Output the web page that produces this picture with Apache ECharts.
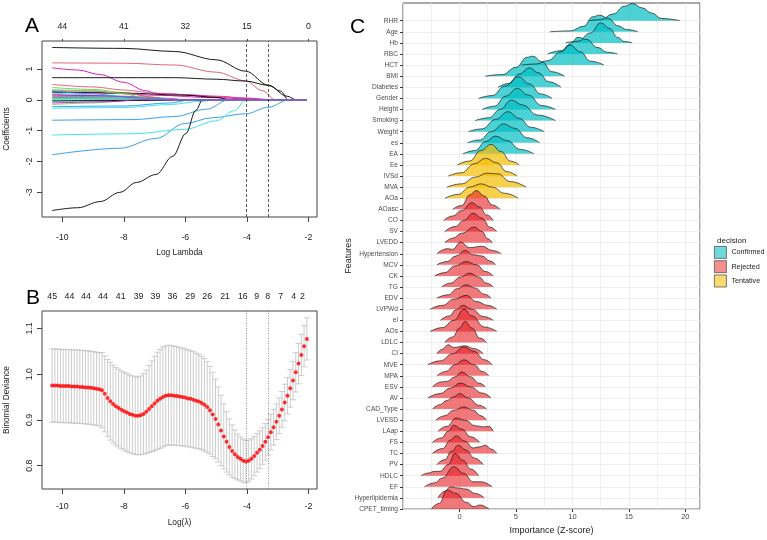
<!DOCTYPE html>
<html>
<head>
<meta charset="utf-8">
<script src="https://cdn.jsdelivr.net/npm/echarts@6/dist/echarts.min.js"></script>
<style>
  html, body {margin: 0; padding: 0; background: #fff;}
  #chart {width: 767px; height: 540px;}
</style>
</head>
<body>
<div id="chart"></div>
<script>
// ---- panel A: lasso coefficient paths (log lambda, coefficient) ----
const pathTopAt = [-10, -8, -6, -4, -2];
const pathTopCount = [44, 41, 32, 15, 0];
const coefPaths = [
  [[-10.33, 1.70], [-8, 1.67], [-6.35, 1.57], [-5, 1.30], [-4.04, 0.93], [-3.29, 0.47], [-2.7, 0.12], [-2.38, 0], [-2.05, 0]],
  [[-10.33, 1.20], [-8, 1.19], [-6.35, 1.13], [-5, 0.90], [-4.04, 0.62], [-3.5, 0.30], [-3.07, 0], [-2.05, 0]],
  [[-10.33, 0.40], [-9, 0.34], [-8, 0.24], [-7.2, 0.10], [-6.5, 0], [-2.05, 0]],
  [[-10.33, -1.78], [-8.13, -1.57], [-6.95, -1.25], [-6.03, -0.77], [-5.12, -0.58], [-4.04, -0.45], [-3.29, -0.24], [-2.65, 0], [-2.05, 0]],
  [[-10.33, -1.14], [-7.7, -1.10], [-6.03, -0.96], [-5, -0.68], [-4.4, -0.35], [-4.04, 0], [-2.05, 0]],
  [[-10.33, 1.04], [-9.5, 0.97], [-8.77, 0.82], [-8, 0.57], [-7.3, 0.30], [-6.95, 0.21], [-6, 0.17], [-5, 0.12], [-4.04, 0.06], [-3.07, 0], [-2.05, 0]],
  [[-10.33, 0.72], [-8, 0.72], [-6.35, 0.72], [-5, 0.67], [-4.04, 0.61], [-3.29, 0.47], [-2.9, 0.28], [-2.65, 0], [-2.05, 0]],
  [[-10.33, 0.50], [-9, 0.42], [-8, 0.32], [-7, 0.22], [-5, 0.10], [-4, 0.05], [-3.5, 0], [-2.05, 0]],
  [[-10.33, -0.15], [-9, -0.10], [-8, -0.03], [-7.5, 0], [-2.05, 0]],
  [[-10.33, -0.66], [-7.7, -0.64], [-6.35, -0.54], [-5.3, -0.30], [-4.6, 0], [-2.05, 0]],
  [[-10.33, -0.27], [-8, -0.25], [-6.5, -0.15], [-5.5, -0.05], [-5, 0], [-2.05, 0]],
  [[-10.33, 0.27], [-9, 0.24], [-8, 0.20], [-7, 0.15], [-5, 0.07], [-4, 0.03], [-3.3, 0], [-2.05, 0]],
  [[-10.33, -3.59], [-9.5, -3.50], [-8.77, -3.30], [-8.13, -3.00], [-7.59, -2.68], [-6.95, -2.42], [-6.41, -1.83], [-5.98, -1.09], [-5.66, -0.34], [-5.44, 0], [-2.05, 0]],
  [[-10.33, 0.18], [-8, 0.12], [-6.5, 0.05], [-6, 0], [-2.05, 0]],
  [[-10.33, 0.10], [-8, 0.06], [-7, 0], [-2.05, 0]],
  [[-10.33, -0.22], [-8, -0.20], [-6.5, -0.10], [-5.8, 0], [-2.05, 0]],
  [[-10.33, 0.22], [-8.5, 0.15], [-7.5, 0.05], [-7, 0], [-2.05, 0]],
  [[-10.33, 0.06], [-8, 0.03], [-7.5, 0], [-2.05, 0]],
  [[-10.33, 0.25], [-8, 0.22], [-6, 0.15], [-5, 0.08], [-4.5, 0], [-2.05, 0]],
  [[-10.33, 0.30], [-9, 0.28], [-7.8, 0.20], [-7, 0.08], [-6.5, 0], [-2.05, 0]],
  [[-10.33, 0.33], [-9, 0.30], [-8, 0.20], [-7.3, 0.05], [-7, 0], [-2.05, 0]],
  [[-10.33, 0.28], [-9, 0.20], [-8, 0.10], [-7.5, 0], [-2.05, 0]],
  [[-10.33, -0.05], [-8.5, -0.03], [-7.8, 0], [-2.05, 0]],
  [[-10.33, 0.15], [-9, 0.14], [-8, 0.10], [-7, 0.03], [-6.6, 0], [-2.05, 0]],
  [[-10.33, -0.03], [-7, -0.02], [-6, 0], [-2.05, 0]],
  [[-10.33, 0.08], [-8.5, 0.06], [-7, 0.02], [-6.5, 0], [-2.05, 0]],
  [[-10.33, 0.02], [-8, 0.02], [-6.5, 0.01], [-5.5, 0], [-2.05, 0]],
  [[-10.33, 0.12], [-8, 0.10], [-7, 0.05], [-6, 0], [-2.05, 0]],
  [[-10.33, 0.05], [-8, 0.04], [-6.8, 0], [-2.05, 0]],
  [[-10.33, -0.10], [-8.5, -0.06], [-7.5, 0], [-2.05, 0]]
];
const lambdaMin = -4.03;
const lambda1se = -3.29;

// ---- panel B: cross-validated binomial deviance ----
const logLambda = [-10.33, -10.24, -10.15, -10.06, -9.97, -9.88, -9.79, -9.70, -9.61, -9.52, -9.43, -9.34, -9.25, -9.16, -9.07, -8.98, -8.89, -8.80, -8.71, -8.62, -8.53, -8.44, -8.35, -8.26, -8.17, -8.08, -7.99, -7.90, -7.81, -7.72, -7.63, -7.54, -7.45, -7.36, -7.27, -7.18, -7.09, -7.00, -6.91, -6.82, -6.73, -6.64, -6.55, -6.46, -6.37, -6.28, -6.19, -6.10, -6.01, -5.92, -5.83, -5.74, -5.65, -5.56, -5.47, -5.38, -5.29, -5.20, -5.11, -5.02, -4.93, -4.84, -4.75, -4.66, -4.57, -4.48, -4.39, -4.30, -4.21, -4.12, -4.03, -3.94, -3.85, -3.76, -3.67, -3.58, -3.49, -3.40, -3.31, -3.22, -3.13, -3.04, -2.95, -2.86, -2.77, -2.68, -2.59, -2.50, -2.41, -2.32, -2.23, -2.14, -2.05];
const cvMean = [0.975, 0.975, 0.975, 0.974, 0.974, 0.974, 0.974, 0.973, 0.973, 0.973, 0.972, 0.972, 0.971, 0.971, 0.970, 0.969, 0.968, 0.967, 0.965,
  0.957, 0.948, 0.941, 0.935, 0.930, 0.926, 0.922, 0.919, 0.916, 0.913, 0.911, 0.909, 0.909,
  0.910, 0.913, 0.918, 0.924, 0.930, 0.936, 0.942, 0.946, 0.950, 0.953, 0.954, 0.954,
  0.953, 0.952, 0.951, 0.950, 0.949, 0.947, 0.946, 0.944, 0.942, 0.940, 0.937, 0.933, 0.928, 0.921, 0.912, 0.902,
  0.890, 0.877, 0.864, 0.852, 0.841, 0.832, 0.825, 0.819, 0.815, 0.811, 0.809,
  0.811, 0.815, 0.821, 0.828, 0.835, 0.843, 0.852, 0.862, 0.873, 0.884, 0.896, 0.909, 0.923, 0.938, 0.953, 0.969, 0.986, 1.004, 1.023, 1.042, 1.061, 1.077];
const cvSe = [0.080, 0.080, 0.080, 0.080, 0.080, 0.080, 0.080, 0.080, 0.080, 0.080, 0.080, 0.080, 0.080, 0.080, 0.080, 0.080, 0.080, 0.080, 0.082,
  0.083, 0.084, 0.085, 0.085, 0.085, 0.085, 0.085, 0.085, 0.085, 0.085, 0.085, 0.085, 0.085,
  0.086, 0.088, 0.091, 0.095, 0.099, 0.103, 0.106, 0.108, 0.109, 0.109, 0.109, 0.109,
  0.108, 0.108, 0.107, 0.107, 0.106, 0.106, 0.105, 0.105, 0.104, 0.103, 0.102, 0.101, 0.099, 0.096, 0.092, 0.087,
  0.082, 0.077, 0.071, 0.066, 0.061, 0.057, 0.053, 0.050, 0.048, 0.047, 0.046,
  0.045, 0.044, 0.043, 0.042, 0.041, 0.040, 0.040, 0.039, 0.039, 0.039, 0.039, 0.039, 0.039, 0.040, 0.040, 0.041, 0.042, 0.043, 0.044, 0.045, 0.045, 0.046];
const nzAt = [-10.33, -9.77, -9.23, -8.68, -8.10, -7.52, -6.97, -6.42, -5.84, -5.29, -4.71, -4.13, -3.68, -3.32, -2.90, -2.48, -2.19];
const nzCount = [45, 44, 44, 44, 41, 39, 39, 36, 29, 26, 21, 16, 9, 8, 7, 4, 2];
const cvMinAt = -4.03;
const cv1seAt = -3.31;

// ---- panel C: Boruta importance ridges, top row first; [z-score, density height in rows] ----
const features = ['RHR', 'Age', 'Hb', 'RBC', 'HCT', 'BMI', 'Diabetes', 'Gender', 'Height', 'Smoking', 'Weight', 'es', 'EA',
  'Ee', 'IVSd', 'MVA', 'AOa',
  'AOasc', 'CO', 'SV', 'LVEDD', 'Hypertension', 'MCV', 'CK', 'TG', 'EDV', 'LVPWd', 'el', 'AOs', 'LDLC', 'CI', 'MVE', 'MPA',
  'ESV', 'AV', 'CAD_Type', 'LVESD', 'LAap', 'FS', 'TC', 'PV', 'HDLC', 'EF', 'Hyperlipidemia', 'CPET_timing'];
const decisions = ['Confirmed', 'Confirmed', 'Confirmed', 'Confirmed', 'Confirmed', 'Confirmed', 'Confirmed', 'Confirmed', 'Confirmed', 'Confirmed', 'Confirmed', 'Confirmed', 'Confirmed',
  'Tentative', 'Tentative', 'Tentative', 'Tentative',
  'Rejected', 'Rejected', 'Rejected', 'Rejected', 'Rejected', 'Rejected', 'Rejected', 'Rejected', 'Rejected', 'Rejected', 'Rejected', 'Rejected', 'Rejected', 'Rejected', 'Rejected', 'Rejected',
  'Rejected', 'Rejected', 'Rejected', 'Rejected', 'Rejected', 'Rejected', 'Rejected', 'Rejected', 'Rejected', 'Rejected', 'Rejected', 'Rejected'];
const ridges = [
  [[11.5, 0], [12.5, 0.1], [13.6, 0.6], [14.6, 1.3], [15.3, 1.55], [16.2, 1.15], [17.0, 0.7], [17.9, 0.2], [19.5, 0]],
  [[8.0, 0], [9.8, 0.08], [11.0, 0.5], [11.8, 1.35], [12.4, 1.5], [13.2, 1.2], [14.0, 0.55], [14.8, 0.2], [15.8, 0]],
  [[9.4, 0], [10.5, 0.15], [11.6, 0.9], [12.5, 1.8], [13.3, 1.3], [14.0, 0.5], [14.6, 0.12], [15.3, 0]],
  [[7.8, 0], [9.0, 0.3], [9.8, 0.9], [10.5, 1.5], [11.3, 1.3], [12.2, 0.6], [13.1, 0.15], [14.0, 0]],
  [[5.5, 0], [6.8, 0.1], [7.8, 0.4], [9.0, 1.2], [9.8, 1.8], [10.7, 1.2], [11.6, 0.35], [12.8, 0]],
  [[2.3, 0], [3.8, 0.15], [5.0, 0.8], [6.0, 1.7], [6.5, 1.8], [7.3, 1.3], [8.2, 0.4], [9.3, 0]],
  [[3.4, 0], [4.4, 0.35], [5.3, 1.2], [6.2, 1.75], [7.0, 1.3], [7.9, 0.5], [9.0, 0]],
  [[1.7, 0], [2.9, 0.25], [4.0, 1.1], [5.2, 1.95], [6.2, 1.3], [7.2, 0.4], [8.2, 0]],
  [[2.0, 0], [3.1, 0.3], [4.1, 1.2], [5.1, 1.9], [6.1, 1.3], [7.3, 0.35], [8.5, 0]],
  [[1.4, 0], [2.6, 0.25], [3.6, 1.0], [4.6, 1.85], [5.6, 1.4], [6.9, 0.5], [8.5, 0]],
  [[0.8, 0], [2.0, 0.25], [3.2, 1.1], [4.3, 1.8], [5.3, 1.2], [6.3, 0.4], [7.5, 0]],
  [[0.7, 0], [1.8, 0.25], [2.8, 1.0], [3.9, 1.7], [4.9, 1.3], [6.0, 0.45], [7.1, 0]],
  [[0.3, 0], [1.4, 0.3], [2.3, 1.1], [3.2, 1.6], [4.2, 1.2], [5.4, 0.4], [6.6, 0]],
  [[-0.2, 0], [0.9, 0.35], [1.9, 1.3], [2.8, 1.85], [3.7, 1.2], [4.5, 0.35], [5.3, 0]],
  [[-1.0, 0], [0.2, 0.3], [1.3, 1.1], [2.3, 1.6], [3.3, 1.2], [4.2, 0.4], [5.1, 0]],
  [[-1.1, 0], [0.2, 0.3], [1.4, 0.9], [2.4, 1.25], [3.4, 1.2], [4.5, 0.5], [5.9, 0]],
  [[-1.3, 0], [-0.1, 0.35], [0.9, 1.0], [1.9, 1.3], [2.9, 1.0], [4.0, 0.45], [5.2, 0]],
  [[-0.6, 0], [0.2, 0.35], [0.9, 1.3], [1.5, 1.7], [2.2, 1.2], [2.9, 0.4], [3.6, 0]],
  [[-1.4, 0], [-0.6, 0.4], [0.2, 0.9], [1.1, 1.6], [1.8, 1.2], [2.4, 0.5], [3.0, 0]],
  [[-1.3, 0], [-0.4, 0.45], [0.4, 1.0], [1.2, 1.65], [2.0, 1.2], [2.7, 0.4], [3.3, 0]],
  [[-1.3, 0], [-0.6, 0.4], [0.2, 0.85], [1.3, 1.4], [2.0, 1.0], [2.5, 0.35], [2.9, 0]],
  [[-2.0, 0], [-1.1, 0.45], [-0.6, 0.4], [0.1, 1.05], [0.9, 0.55], [2.0, 0.68], [2.9, 0.3], [3.7, 0]],
  [[-2.0, 0], [-1.1, 0.3], [-0.3, 0.8], [0.5, 1.3], [1.2, 0.9], [2.0, 0.8], [2.7, 0.35], [3.2, 0]],
  [[-2.2, 0], [-1.3, 0.3], [-0.4, 0.9], [0.6, 1.3], [1.5, 1.0], [2.3, 0.4], [3.0, 0]],
  [[-1.6, 0], [-0.8, 0.35], [0.1, 0.9], [0.9, 1.26], [1.7, 0.9], [2.4, 0.35], [3.0, 0]],
  [[-2.0, 0], [-1.0, 0.3], [-0.2, 0.85], [0.6, 1.2], [1.4, 0.9], [2.2, 0.35], [2.8, 0]],
  [[-2.6, 0], [-1.5, 0.35], [-0.5, 0.9], [0.6, 1.25], [1.5, 0.7], [2.5, 0.35], [3.3, 0]],
  [[-1.7, 0], [-0.9, 0.4], [-0.3, 0.95], [0.3, 1.35], [1.1, 1.0], [2.1, 0.35], [3.0, 0]],
  [[-2.6, 0], [-1.5, 0.35], [-0.5, 1.0], [0.4, 2.0], [1.1, 1.4], [2.2, 0.4], [3.3, 0]],
  [[-1.3, 0], [-0.6, 0.5], [0.0, 1.3], [0.5, 1.9], [1.1, 1.3], [1.8, 0.4], [2.4, 0]],
  [[-2.0, 0], [-1.5, 0.4], [-1.0, 0.8], [-0.5, 0.55], [0.5, 0.7], [1.3, 0.45], [2.1, 0]],
  [[-2.8, 0], [-1.7, 0.35], [-0.6, 1.0], [0.4, 1.6], [1.3, 1.2], [2.2, 0.45], [2.9, 0]],
  [[-2.0, 0], [-1.2, 0.4], [-0.4, 1.0], [0.4, 1.45], [1.3, 1.0], [2.0, 0.4], [2.6, 0]],
  [[-2.4, 0], [-1.6, 0.45], [-1.1, 0.5], [-0.4, 0.9], [0.2, 1.35], [1.0, 0.9], [1.7, 0.35], [2.3, 0]],
  [[-2.8, 0], [-1.7, 0.4], [-0.8, 0.9], [0.1, 1.35], [1.0, 1.0], [2.0, 0.45], [2.8, 0]],
  [[-2.4, 0], [-1.7, 0.4], [-1.2, 0.75], [-0.5, 1.1], [0.0, 1.4], [0.8, 1.0], [1.7, 0.35], [2.4, 0]],
  [[-2.1, 0], [-1.3, 0.4], [-0.5, 0.9], [0.4, 1.2], [1.2, 0.9], [1.9, 0.4], [2.4, 0]],
  [[-1.9, 0], [-1.1, 0.45], [-0.3, 1.2], [0.5, 1.0], [1.4, 0.5], [2.1, 0.4], [2.6, 0.45], [3.0, 0]],
  [[-2.4, 0], [-1.6, 0.4], [-1.0, 1.0], [-0.5, 1.55], [0.2, 1.2], [1.0, 0.5], [1.8, 0]],
  [[-2.4, 0], [-1.5, 0.45], [-0.8, 1.2], [-0.3, 1.6], [0.5, 1.1], [1.2, 0.5], [1.8, 0.6], [2.3, 0.75], [2.8, 0.4], [3.3, 0]],
  [[-2.0, 0], [-1.3, 0.45], [-0.7, 1.2], [-0.1, 1.75], [0.6, 1.3], [1.3, 0.6], [2.1, 0]],
  [[-3.4, 0], [-2.7, 0.25], [-2.3, 0.38], [-1.7, 0.4], [-1.0, 1.0], [-0.4, 2.0], [0.3, 1.4], [1.0, 0.6], [1.7, 0]],
  [[-3.1, 0], [-2.2, 0.35], [-1.5, 0.8], [-0.5, 1.8], [0.4, 1.2], [1.2, 0.45], [1.9, 0.45], [2.9, 0]],
  [[-1.9, 0], [-1.3, 0.6], [-0.8, 1.0], [-0.2, 0.9], [0.6, 0.8], [1.4, 0.4], [2.2, 0]],
  [[-2.5, 0], [-1.8, 0.5], [-1.1, 1.7], [-0.3, 1.4], [0.6, 0.6], [1.3, 0.2], [1.8, 0.36], [2.6, 0]]
];
const xTicksC = [0, 5, 10, 15, 20];

// ---- styles ----
const rPalette = ['#000000', '#DF536B', '#61D04F', '#2297E6', '#28E2E5', '#CD0BBC'];
const fillColors = {Confirmed: 'rgba(0,190,195,0.7)', Rejected: 'rgba(230,30,35,0.6)', Tentative: 'rgba(245,190,0,0.7)'};
const keyColors = {Confirmed: '#4ccfd3', Rejected: '#f07476', Tentative: '#f9d24e'};
const FONT = 'Liberation Sans, Arial, sans-serif';
const tickLab = {fontSize: 8.8, color: '#222', fontFamily: FONT};
const nRow = features.length - 1;
const noLine = {show: false, onZero: false};

const chart = echarts.init(document.getElementById('chart'), null, {renderer: 'canvas'});

function lookup(at, labels) {
  return v => {
    const i = at.findIndex(a => Math.abs(a - v) < 1e-6);
    return i < 0 ? '' : String(labels[i]);
  };
}

function errorBar(params, api) {
  const x = api.value(0);
  const lo = api.coord([x, api.value(1)]);
  const hi = api.coord([x, api.value(2)]);
  const w = 3;
  const st = {stroke: '#c6c6c6', lineWidth: 0.9};
  return {
    type: 'group',
    children: [
      {type: 'line', shape: {x1: lo[0], y1: lo[1], x2: hi[0], y2: hi[1]}, style: st},
      {type: 'line', shape: {x1: hi[0] - w, y1: hi[1], x2: hi[0] + w, y2: hi[1]}, style: st},
      {type: 'line', shape: {x1: lo[0] - w, y1: lo[1], x2: lo[0] + w, y2: lo[1]}, style: st}
    ]
  };
}

const series = [];

// A: coefficient paths
coefPaths.forEach((path, i) => {
  series.push({
    type: 'line', xAxisIndex: 0, yAxisIndex: 0,
    data: path, smooth: 0.35, smoothMonotone: 'x', showSymbol: false, silent: true,
    lineStyle: {color: rPalette[i % rPalette.length], width: 0.9}
  });
});
series.push({
  type: 'line', xAxisIndex: 0, yAxisIndex: 0, data: [], silent: true,
  markLine: {
    symbol: 'none', label: {show: false}, silent: true,
    lineStyle: {color: '#333', type: [3, 2], width: 0.8},
    data: [{xAxis: lambdaMin}, {xAxis: lambda1se}]
  }
});

// B: error bars + mean points
series.push({
  type: 'custom', xAxisIndex: 2, yAxisIndex: 1, renderItem: errorBar, silent: true,
  data: logLambda.map((x, i) => [x, cvMean[i] - cvSe[i], cvMean[i] + cvSe[i]]),
  markLine: {
    symbol: 'none', label: {show: false}, silent: true,
    lineStyle: {color: '#777', type: [1, 1.5], width: 0.8},
    data: [{xAxis: cvMinAt}, {xAxis: cv1seAt}]
  }
});
series.push({
  type: 'scatter', xAxisIndex: 2, yAxisIndex: 1, symbolSize: 4, silent: true,
  itemStyle: {color: '#ff0000'},
  data: logLambda.map((x, i) => [x, cvMean[i]])
});

// C: ridges, drawn top row first so lower rows sit in front
features.forEach((f, i) => {
  const base = nRow - i;
  series.push({
    name: f, type: 'line', xAxisIndex: 6, yAxisIndex: 3,
    data: ridges[i].map(p => [p[0], base + p[1]]),
    smooth: 0.45, smoothMonotone: 'x', showSymbol: false, clip: false, silent: true,
    lineStyle: {color: '#1a1a1a', width: 0.7},
    areaStyle: {color: fillColors[decisions[i]], opacity: 1, origin: base}
  });
});
['Confirmed', 'Rejected', 'Tentative'].forEach(d => {
  series.push({name: d, type: 'scatter', xAxisIndex: 6, yAxisIndex: 3, data: [], itemStyle: {color: keyColors[d]}});
});

chart.setOption({
  animation: false,
  backgroundColor: '#fff',
  textStyle: {fontFamily: FONT},
  title: [
    {text: 'A', left: 20, top: 11, textStyle: {fontSize: 21, fontWeight: 'normal', color: '#000', fontFamily: FONT}},
    {text: 'B', left: 21, top: 283, textStyle: {fontSize: 21, fontWeight: 'normal', color: '#000', fontFamily: FONT}},
    {text: 'C', left: 345, top: 12, textStyle: {fontSize: 21, fontWeight: 'normal', color: '#000', fontFamily: FONT}},
    {text: 'decision', left: 712, top: 232, textStyle: {fontSize: 8, fontWeight: 'normal', color: '#222', fontFamily: FONT}}
  ],
  legend: {
    data: ['Confirmed', 'Rejected', 'Tentative'],
    orient: 'vertical', left: 714, top: 246, padding: 0,
    icon: 'rect', itemWidth: 12, itemHeight: 12, itemGap: 1.5,
    itemStyle: {borderColor: '#333', borderWidth: 0.8},
    textStyle: {fontSize: 7.2, color: '#222', fontFamily: FONT},
    selectedMode: false
  },
  grid: [
    {left: 42, top: 41, width: 275, height: 176, show: true, borderColor: '#444', borderWidth: 1, containLabel: false},
    {left: 42, top: 311, width: 275, height: 178, show: true, borderColor: '#444', borderWidth: 1, containLabel: false},
    {left: 403, top: 3, width: 297, height: 512, show: true, borderColor: '#555', borderWidth: 1, containLabel: false},
    {left: 403, top: 20.7, width: 297, height: 488.3, show: false, containLabel: false}
  ],
  xAxis: [
    {type: 'value', gridIndex: 0, position: 'bottom', min: -10.66, max: -1.72,
      name: 'Log Lambda', nameLocation: 'middle', nameGap: 32, nameTextStyle: {fontSize: 8.4, color: '#222'},
      axisLine: noLine, splitLine: {show: false},
      axisTick: {customValues: pathTopAt, length: 5, lineStyle: {color: '#444'}},
      axisLabel: Object.assign({customValues: pathTopAt, margin: 16}, tickLab)},
    {type: 'value', gridIndex: 0, position: 'top', min: -10.66, max: -1.72,
      axisLine: noLine, splitLine: {show: false},
      axisTick: {customValues: pathTopAt, length: 2, lineStyle: {color: '#444'}},
      axisLabel: Object.assign({customValues: pathTopAt, margin: 10, formatter: lookup(pathTopAt, pathTopCount)}, tickLab)},
    {type: 'value', gridIndex: 1, position: 'bottom', min: -10.66, max: -1.72,
      name: 'Log(λ)', nameLocation: 'middle', nameGap: 30, nameTextStyle: {fontSize: 8.4, color: '#222'},
      axisLine: noLine, splitLine: {show: false},
      axisTick: {customValues: pathTopAt, length: 5, lineStyle: {color: '#444'}},
      axisLabel: Object.assign({customValues: pathTopAt, margin: 13}, tickLab)},
    {type: 'value', gridIndex: 1, position: 'top', min: -10.66, max: -1.72,
      axisLine: noLine, splitLine: {show: false}, axisTick: {show: false},
      axisLabel: Object.assign({customValues: nzAt, margin: 10, formatter: lookup(nzAt, nzCount)}, tickLab)},
    {type: 'value', gridIndex: 2, position: 'bottom', min: -5, max: 21.3,
      name: 'Importance (Z-score)', nameLocation: 'middle', nameGap: 13, nameTextStyle: {fontSize: 9, color: '#222'},
      axisLine: noLine, splitLine: {show: false},
      axisTick: {customValues: xTicksC, length: 3, lineStyle: {color: '#333'}},
      axisLabel: {customValues: xTicksC, margin: 4, fontSize: 7.5, color: '#4d4d4d'}},
    {type: 'value', gridIndex: 2, position: 'top', min: -5, max: 21.3, interval: 2.5,
      axisLine: noLine, axisTick: {show: false}, axisLabel: {show: false},
      splitLine: {show: true, lineStyle: {color: '#ebebeb', width: 0.8}}},
    {type: 'value', gridIndex: 3, min: -5, max: 21.3, show: false, axisLine: noLine}
  ],
  yAxis: [
    {type: 'value', gridIndex: 0, min: -3.80, max: 1.91,
      name: 'Coefficients', nameLocation: 'middle', nameGap: 31, nameTextStyle: {fontSize: 8.4, color: '#222'},
      axisLine: noLine, splitLine: {show: false},
      axisTick: {customValues: [-3, -2, -1, 0, 1], length: 5, lineStyle: {color: '#444'}},
      axisLabel: Object.assign({customValues: [-3, -2, -1, 0, 1], rotate: 90, margin: 8}, tickLab)},
    {type: 'value', gridIndex: 1, min: 0.749, max: 1.138,
      name: 'Binomial Deviance', nameLocation: 'middle', nameGap: 31, nameTextStyle: {fontSize: 8.2, color: '#222'},
      axisLine: noLine, splitLine: {show: false},
      axisTick: {customValues: [0.8, 0.9, 1.0, 1.1], length: 5, lineStyle: {color: '#444'}},
      axisLabel: Object.assign({customValues: [0.8, 0.9, 1.0, 1.1], rotate: 90, margin: 8, formatter: v => v.toFixed(1)}, tickLab)},
    {type: 'value', gridIndex: 2, min: 0, max: 1,
      name: 'Features', nameLocation: 'middle', nameGap: 50, nameTextStyle: {fontSize: 9, color: '#222'},
      axisLine: noLine, axisTick: {show: false}, axisLabel: {show: false}, splitLine: {show: false}},
    {type: 'value', gridIndex: 3, min: 0, max: nRow, interval: 1,
      axisLine: noLine,
      axisTick: {show: true, length: 3, lineStyle: {color: '#333'}},
      axisLabel: {fontSize: 6.6, color: '#4d4d4d', margin: 5, formatter: v => features[nRow - v] || ''},
      splitLine: {show: true, lineStyle: {color: '#ebebeb', width: 0.8}}}
  ],
  series: series
});
</script>
</body>
</html>
